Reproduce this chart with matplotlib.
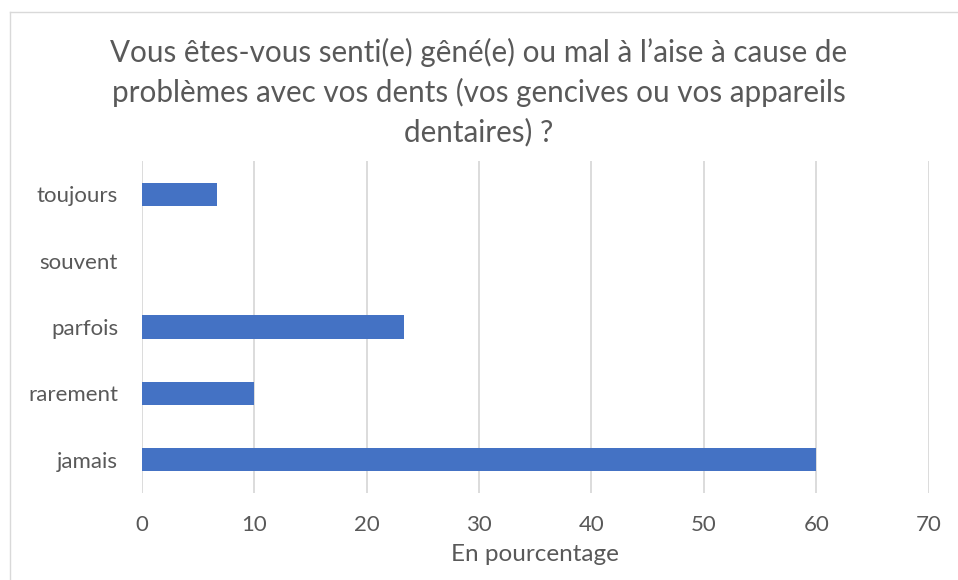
import matplotlib
matplotlib.use("Agg")
import matplotlib.pyplot as plt
from matplotlib.lines import Line2D

plt.rcParams['font.family'] = ['Lato', 'DejaVu Sans']

# données (en pourcentage)
categories = ["jamais", "rarement", "parfois", "souvent", "toujours"]
values = [60, 10, 23.33, 0, 6.67]
xticks = [0, 10, 20, 30, 40, 50, 60, 70]

title = ("Vous êtes-vous senti(e) gêné(e) ou mal à l’aise à cause de\n"
         "problèmes avec vos dents (vos gencives ou vos appareils\n"
         "dentaires) ?")

text_color = "#595959"
bar_color = "#4472C4"
grid_color = "#D9D9D9"

W, H = 958, 580
fig = plt.figure(figsize=(W / 100, H / 100), dpi=100)
ax = fig.add_axes([0.1479, 0.15, 0.8215, 0.5724])

ax.barh(categories, values, height=0.35, color=bar_color, zorder=3)

ax.set_xlim(0, 70)
ax.set_ylim(-0.5, len(categories) - 0.5)
ax.set_xticks(xticks)
ax.grid(axis="x", color=grid_color, linewidth=1.3, zorder=0)
ax.grid(axis="y", visible=False)
for s in ax.spines.values():
    s.set_visible(False)
ax.tick_params(axis="both", length=0, labelsize=16, labelcolor=text_color)
ax.tick_params(axis="x", pad=16)
ax.tick_params(axis="y", pad=17)
ax.set_xlabel("En pourcentage", fontsize=17.5, color=text_color, labelpad=6)

fig.text(0.5, 1 - 38 / H, title, ha="center", va="top", fontsize=21.3,
         color=text_color, linespacing=1.45)

# cadre du graphique (bord gauche et haut visibles)
bx, by = 10 / W, 1 - 12 / H
fig.add_artist(Line2D([bx, bx], [0, by], transform=fig.transFigure, color=grid_color, lw=1))
fig.add_artist(Line2D([bx, 1], [by, by], transform=fig.transFigure, color=grid_color, lw=1))

plt.savefig("out.png", dpi=100)
plt.close()
